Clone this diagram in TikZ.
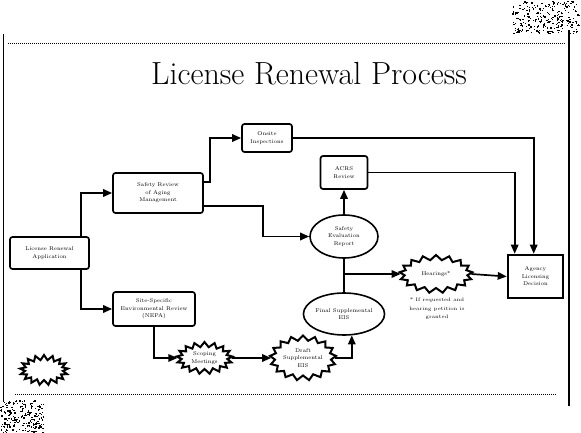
\documentclass[tikz,border=0pt]{standalone}
\usetikzlibrary{arrows.meta,shapes.geometric,shapes.symbols,calc}
\begin{document}
\begin{tikzpicture}[x=1pt,y=-1pt,
  txt/.style={font=\fontsize{5.5}{7.5}\selectfont,align=center,inner sep=0pt},
  box/.style={txt,draw,line width=1.7pt,rounded corners=2.5pt},
  oval/.style={txt,draw,ellipse,line width=1.6pt,inner sep=0pt},
  burst/.style={txt,draw,shape=starburst,line width=2pt,starburst points=17,starburst point height=5pt,random starburst=0},
  arr/.style={line width=1.7pt,-{Triangle[length=9pt,width=7.5pt]}},
  ln/.style={line width=1.7pt}]
\useasboundingbox (0,0) rectangle (581,433);
% frame
\draw[line width=1pt,densely dotted] (8,44) -- (566,44);
\draw[line width=0.8pt] (3,34) -- (3,402);
\draw[line width=1.2pt] (569,30) -- (569,406);
\draw[line width=1pt,densely dotted] (15,394) -- (556,394);
% noise patches
\pgfmathsetseed{7}
\foreach \i in {1,...,260}{
  \pgfmathsetmacro{\px}{545+34*rand}
  \pgfmathsetmacro{\py}{17+16*rand}
  \fill (\px,\py) rectangle ++(1.3,1.3);
}
\foreach \i in {1,...,200}{
  \pgfmathsetmacro{\px}{22+22*rand}
  \pgfmathsetmacro{\py}{416+16*rand}
  \fill (\px,\py) rectangle ++(1.3,1.3);
}
% title
\node[font=\fontsize{32}{38}\selectfont] (title) at (309,74) {License Renewal Process};
% nodes
\node[box,minimum width=79pt,minimum height=32pt] (A) at (49.5,253) {License Renewal\\Application};
\node[box,minimum width=90pt,minimum height=40pt] (B) at (158,193) {Safety Review\\of Aging\\Management};
\node[box,minimum width=50pt,minimum height=28pt] (I) at (267,138) {Onsite\\Inspections};
\node[box,minimum width=47pt,minimum height=33pt] (R) at (344,172.5) {ACRS\\Review};
\node[oval,minimum width=68pt,minimum height=43pt] (S) at (344,236.5) {Safety\\Evaluation\\Report};
\node[oval,minimum width=70pt,minimum height=42pt] (F) at (344,314) {Final Supplemental\\EIS};
\node[box,minimum width=82pt,minimum height=34pt] (C) at (154,309) {Site-Specific\\Environmental Review\\(NEPA)};
\node[burst,minimum width=56pt,minimum height=32pt] (S1) at (204.5,358) {Scoping\\Meetings};
\node[burst,minimum width=63pt,minimum height=45pt] (S2) at (303,358) {Draft\\Supplemental\\EIS};
\node[burst,minimum width=73pt,minimum height=38pt] (H) at (436,274) {Hearings*};
\node[box,line width=2.6pt,rounded corners=0pt,minimum width=55pt,minimum height=43pt] (D) at (535.5,276.5) {Agency\\Licensing\\Decision};
\node[burst,minimum width=48pt,minimum height=30pt] (L) at (44,370) {};
\node[txt,anchor=north,font=\fontsize{5}{8.5}\selectfont] (N) at (437,298) {* If requested and\\hearing petition is\\granted};
% connectors
\draw[arr] ($(A.north east)+(-9,0)$) |- (B.west);
\draw[arr] ($(A.south east)+(-9,0)$) |- (C.west);
\draw[arr] ($(B.north east)+(0,10)$) -- ++(6,0) |- (I.west);
\draw[arr] ($(B.south east)+(0,-8)$) -- ++(59,0) |- (S.west);
\draw[arr] (S.north) -- (R.south);
\draw[arr] (I.east) -| ($(D.north west)+(27,0)$);
\draw[arr] (R.east) -| ($(D.north west)+(8,0)$);
\draw[ln] (S.south) -- (F.north);
\draw[arr] (S.south |- H.west) -- (H.west);
\draw[arr] (H.east) -- (D.west);
\draw[arr] (C.south) |- (S1.west);
\draw[arr] (S1.east) -- (S2.west);
\draw[arr] (S2.east) -| (F.290);
\end{tikzpicture}
\end{document}
